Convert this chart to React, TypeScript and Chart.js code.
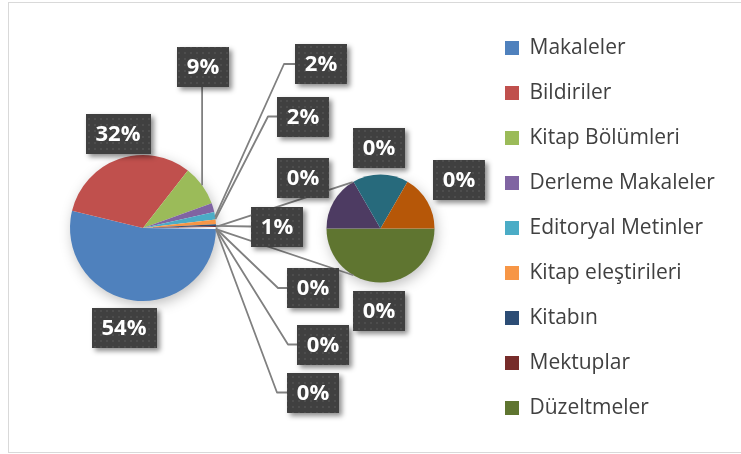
import React, { useEffect, useRef } from 'react';
import { Chart, registerables } from 'chart.js';

Chart.register(...registerables);

// ---------------- data ----------------
const categories = [
  'Makaleler',
  'Bildiriler',
  'Kitap Bölümleri',
  'Derleme Makaleler',
  'Editoryal Metinler',
  'Kitap eleştirileri',
  'Kitabın',
  'Mektuplar',
  'Düzeltmeler',
  'Diğer 1',
  'Diğer 2',
  'Diğer 3',
];
const counts = [700, 415, 117, 26, 22, 13, 5, 3, 3, 1, 1, 1];
const colors = [
  '#4F81BD', '#C0504D', '#9BBB59', '#8064A2', '#4BACC6', '#F79646',
  '#2C4D75', '#772C2A', '#5F7530', '#4D3B62', '#276A7C', '#B65708',
];
const SPLIT = 8; // categories from this index go to the secondary pie
const LEGEND_COUNT = 9;

const total = counts.reduce((a, b) => a + b, 0);
const otherSum = counts.slice(SPLIT).reduce((a, b) => a + b, 0);
const mainValues = counts.map((v, i) => (i < SPLIT ? v : 0));
const secondaryValues = counts.map((v, i) => (i >= SPLIT ? v : 0));
const pct = (v: number) => Math.round((v / total) * 100) + '%';

// ---------------- layout ----------------
const W = 732;
const H = 449;
const MAIN = { x: 134, y: 225, r: 73 };
const SECOND = { x: 371.5, y: 225.5, r: 54 };

type LabelPos = { x: number; y: number; elbowX?: number; anchorDeg?: number; vertical?: boolean };
const mainLabelLayout: LabelPos[] = [
  { x: 115, y: 325 },
  { x: 109, y: 131 },
  { x: 194, y: 63.5, vertical: true },
  { x: 312, y: 61, elbowX: 275, anchorDeg: -8.8 },
  { x: 294, y: 113.5, elbowX: 259, anchorDeg: -7.1 },
  { x: 268, y: 223.5, anchorDeg: -1.6 },
  { x: 304, y: 285, elbowX: 269, anchorDeg: 0.4 },
  { x: 314, y: 341.5, elbowX: 279, anchorDeg: 0.8 },
];
const otherLabelLayout: LabelPos = { x: 304, y: 389.5, elbowX: 268, anchorDeg: 1.0 };
const secondLabelLayout: LabelPos[] = [
  { x: 370, y: 307.5 },
  { x: 294, y: 175 },
  { x: 370, y: 145 },
  { x: 450, y: 177 },
];
const SERIES_END_DEG = [-121, 120];

const LABEL_FONT = "bold 22px 'Open Sans', sans-serif";
const LEGEND_FAMILY = "'Open Sans', sans-serif";
const LEGEND_SIZE = 21;
const LINE_COLOR = '#808080';

function makePattern(ctx: CanvasRenderingContext2D) {
  const c = document.createElement('canvas');
  c.width = 6;
  c.height = 6;
  const p = c.getContext('2d')!;
  p.fillStyle = 'rgba(255,255,255,0.07)';
  p.fillRect(1, 1, 2, 2);
  return ctx.createPattern(c, 'repeat');
}

function drawLabel(ctx: CanvasRenderingContext2D, text: string, cx: number, cy: number, pattern: CanvasPattern | null) {
  ctx.save();
  ctx.font = LABEL_FONT;
  const w = Math.round(ctx.measureText(text).width + 20);
  const h = 40;
  const x = Math.round(cx - w / 2);
  const y = Math.round(cy - h / 2);
  ctx.shadowColor = 'rgba(0,0,0,0.45)';
  ctx.shadowBlur = 5;
  ctx.shadowOffsetX = 3;
  ctx.shadowOffsetY = 3;
  ctx.fillStyle = '#404040';
  ctx.fillRect(x, y, w, h);
  ctx.restore();
  ctx.save();
  if (pattern) {
    ctx.fillStyle = pattern;
    ctx.fillRect(x, y, w, h);
  }
  ctx.font = LABEL_FONT;
  ctx.fillStyle = '#FFFFFF';
  ctx.textAlign = 'center';
  ctx.textBaseline = 'middle';
  ctx.fillText(text, cx, cy + 1);
  ctx.restore();
  return w;
}

function labelWidth(ctx: CanvasRenderingContext2D, text: string) {
  ctx.save();
  ctx.font = LABEL_FONT;
  const w = Math.round(ctx.measureText(text).width + 20);
  ctx.restore();
  return w;
}

const pieOfPiePlugin = {
  id: 'pieOfPie',
  afterDatasetUpdate(chart: any, args: any) {
    const geo = args.index === 0 ? MAIN : SECOND;
    args.meta.data.forEach((el: any) => {
      el.x = geo.x;
      el.y = geo.y;
      el.innerRadius = 0;
      el.outerRadius = geo.r;
    });
  },
  beforeDatasetsDraw(chart: any) {
    const ctx: CanvasRenderingContext2D = chart.ctx;
    [MAIN, SECOND].forEach((g) => {
      ctx.save();
      ctx.shadowColor = 'rgba(0,0,0,0.28)';
      ctx.shadowBlur = 14;
      ctx.shadowOffsetX = 2;
      ctx.shadowOffsetY = 4;
      ctx.fillStyle = '#ffffff';
      ctx.beginPath();
      ctx.arc(g.x, g.y, g.r - 1, 0, Math.PI * 2);
      ctx.fill();
      ctx.restore();
    });
  },
  afterDatasetsDraw(chart: any) {
    const ctx: CanvasRenderingContext2D = chart.ctx;
    const pattern = makePattern(ctx);
    const m0 = chart.getDatasetMeta(0).data;
    const onMain = (rad: number) => [MAIN.x + MAIN.r * Math.cos(rad), MAIN.y + MAIN.r * Math.sin(rad)];
    const onSecond = (rad: number) => [SECOND.x + SECOND.r * Math.cos(rad), SECOND.y + SECOND.r * Math.sin(rad)];

    ctx.save();
    ctx.strokeStyle = LINE_COLOR;
    ctx.lineWidth = 1.8;
    ctx.lineJoin = 'round';

    // series lines from the "other" gap to the secondary pie
    const gapStart = m0[SPLIT - 1].endAngle;
    const gapEnd = m0[0].startAngle + Math.PI * 2;
    [gapStart, gapEnd].forEach((a, k) => {
      const p = onMain(a);
      const q = onSecond((SERIES_END_DEG[k] * Math.PI) / 180);
      ctx.beginPath();
      ctx.moveTo(p[0], p[1]);
      ctx.lineTo(q[0], q[1]);
      ctx.stroke();
    });

    const leader = (pos: LabelPos, text: string, el: any) => {
      const w = labelWidth(ctx, text);
      if (pos.vertical) {
        const mid = (el.startAngle + el.endAngle) / 2;
        const p = onMain(mid);
        ctx.beginPath();
        ctx.moveTo(p[0], p[1]);
        ctx.lineTo(p[0], pos.y + 20);
        ctx.stroke();
        return;
      }
      if (pos.anchorDeg === undefined) return;
      const p = onMain((pos.anchorDeg * Math.PI) / 180);
      const left = pos.x - w / 2;
      ctx.beginPath();
      ctx.moveTo(p[0], p[1]);
      if (pos.elbowX !== undefined) ctx.lineTo(pos.elbowX, pos.y);
      ctx.lineTo(left, pos.y);
      ctx.stroke();
    };

    mainLabelLayout.forEach((pos, i) => leader(pos, pct(counts[i]), m0[i]));
    leader(otherLabelLayout, pct(otherSum), null);
    ctx.restore();

    // label boxes
    mainLabelLayout.forEach((pos, i) => drawLabel(ctx, pct(counts[i]), pos.x, pos.y, pattern));
    drawLabel(ctx, pct(otherSum), otherLabelLayout.x, otherLabelLayout.y, pattern);
    secondLabelLayout.forEach((pos, k) => drawLabel(ctx, pct(counts[SPLIT + k]), pos.x, pos.y, pattern));
  },
};

export default function App() {
  const ref = useRef<HTMLCanvasElement | null>(null);

  useEffect(() => {
    const canvas = ref.current;
    if (!canvas) return;

    // legend placement: box column starts at a fixed x
    const mctx = document.createElement('canvas').getContext('2d')!;
    mctx.font = `${LEGEND_SIZE}px ${LEGEND_FAMILY}`;
    const maxText = Math.max(...categories.slice(0, LEGEND_COUNT).map((t) => mctx.measureText(t).width));
    const legendPadding = 24;
    const boxW = 14;
    const legendWidth = legendPadding + boxW + LEGEND_SIZE / 2 + maxText + 10;
    const legendLeft = 496 - legendPadding;
    const padRight = W - legendLeft - legendWidth;

    const mainCirc = (360 * (total - otherSum)) / total;
    const mainRot = 90 + (180 * otherSum) / total;

    const chart = new Chart(canvas, {
      type: 'pie',
      data: {
        labels: categories,
        datasets: [
          {
            data: mainValues,
            backgroundColor: colors,
            borderWidth: 0,
            rotation: mainRot,
            circumference: mainCirc,
          } as any,
          {
            data: secondaryValues,
            backgroundColor: colors,
            borderWidth: 0,
            rotation: 90,
            circumference: 360,
          } as any,
        ],
      },
      options: {
        responsive: false,
        animation: false,
        events: [],
        layout: { padding: { top: 10.5, right: padRight, left: 0, bottom: 0 } },
        plugins: {
          legend: {
            display: true,
            position: 'right',
            align: 'start',
            labels: {
              boxWidth: boxW,
              boxHeight: 14,
              padding: legendPadding,
              color: '#404040',
              font: { family: LEGEND_FAMILY, size: LEGEND_SIZE },
              filter: (item: any) => item.index < LEGEND_COUNT,
            },
          },
          tooltip: { enabled: false },
        },
      },
      plugins: [pieOfPiePlugin],
    });

    return () => chart.destroy();
  }, []);

  return (
    <div
      style={{
        position: 'fixed',
        left: 8,
        top: 2,
        width: 733,
        height: 451,
        boxSizing: 'border-box',
        border: '1px solid #D9D9D9',
        borderRight: 'none',
        background: '#ffffff',
      }}
    >
      <canvas ref={ref} width={W} height={H} style={{ display: 'block', width: W, height: H }} />
    </div>
  );
}
